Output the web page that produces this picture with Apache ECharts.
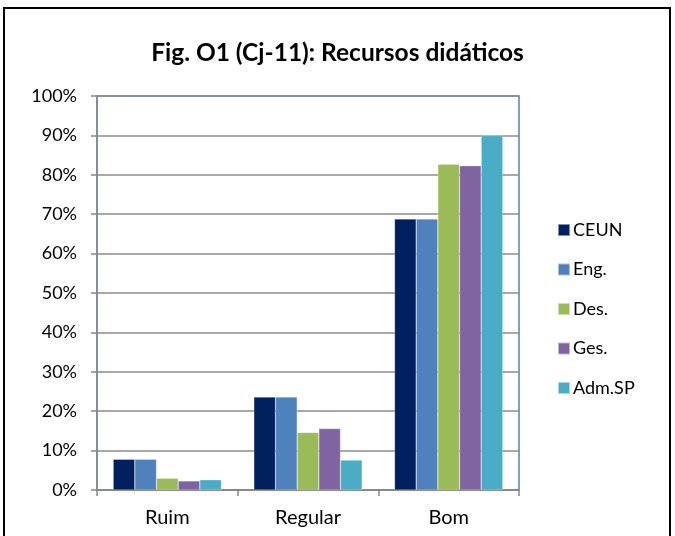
<!DOCTYPE html>
<html>
<head>
<meta charset="utf-8">
<script src="https://cdn.jsdelivr.net/npm/echarts@6/dist/echarts.min.js"></script>
<style>
  html, body { margin: 0; padding: 0; background: #fff; }
  #frame {
    position: absolute; left: 3px; top: 7px; width: 668px; height: 540px;
    border: 2px solid #000; box-sizing: border-box;
  }
  #chart { position: absolute; left: 0; top: 0; width: 675px; height: 536px; }
</style>
</head>
<body>
<div id="frame"></div>
<div id="chart"></div>
<script>
const categories = ['Ruim', 'Regular', 'Bom']
const seriesNames = ['CEUN', 'Eng.', 'Des.', 'Ges.', 'Adm.SP']
const colors = ['#002060', '#4F81BD', '#9BBB59', '#8064A2', '#4BACC6']
const ceun = [7.8, 23.6, 68.8]
const eng = [7.8, 23.6, 68.8]
const des = [3.0, 14.6, 82.7]
const ges = [2.3, 15.6, 82.3]
const admSp = [2.6, 7.6, 90.0]
const values = [ceun, eng, des, ges, admSp]

const chart = echarts.init(document.getElementById('chart'))
const font = 'Lato, "Open Sans", sans-serif'

chart.setOption({
  animation: false,
  title: {
    text: 'Fig. O1 (Cj-11): Recursos didáticos',
    left: 'center',
    top: 36,
    textStyle: { fontFamily: font, fontSize: 24.5, fontWeight: 'bold', color: '#000' }
  },
  legend: {
    orient: 'vertical',
    left: 557,
    top: 221,
    padding: 0,
    itemWidth: 12,
    itemHeight: 12,
    itemGap: 21.5,
    icon: 'rect',
    textStyle: { fontFamily: font, fontSize: 18, color: '#000', padding: [0, 0, 0, -2] },
    data: seriesNames
  },
  grid: {
    left: 97,
    right: 156,
    top: 96,
    bottom: 46,
    show: true,
    borderColor: '#4F81BD',
    borderWidth: 1.5,
    containLabel: false
  },
  xAxis: {
    type: 'category',
    data: categories,
    axisLine: { lineStyle: { color: '#888', width: 1.5 } },
    axisTick: { show: true, length: 6, inside: false, lineStyle: { color: '#888', width: 1.5 } },
    axisLabel: { fontFamily: font, fontSize: 20, color: '#000', margin: 18 }
  },
  yAxis: {
    type: 'value',
    min: 0,
    max: 100,
    interval: 10,
    axisLine: { show: true, lineStyle: { color: '#888', width: 1.5 } },
    axisTick: { show: true, length: 6, lineStyle: { color: '#888', width: 1.5 } },
    splitLine: { lineStyle: { color: '#8c8c8c', width: 1.5 } },
    axisLabel: { fontFamily: font, fontSize: 18, color: '#000', margin: 20, formatter: '{value}%' }
  },
  series: seriesNames.map((name, i) => ({
    name: name,
    type: 'bar',
    data: values[i],
    barGap: '0%',
    barCategoryGap: '23%',
    itemStyle: { color: colors[i], borderColor: 'rgba(255,255,255,0.5)', borderWidth: 0.5 }
  }))
})
</script>
</body>
</html>
